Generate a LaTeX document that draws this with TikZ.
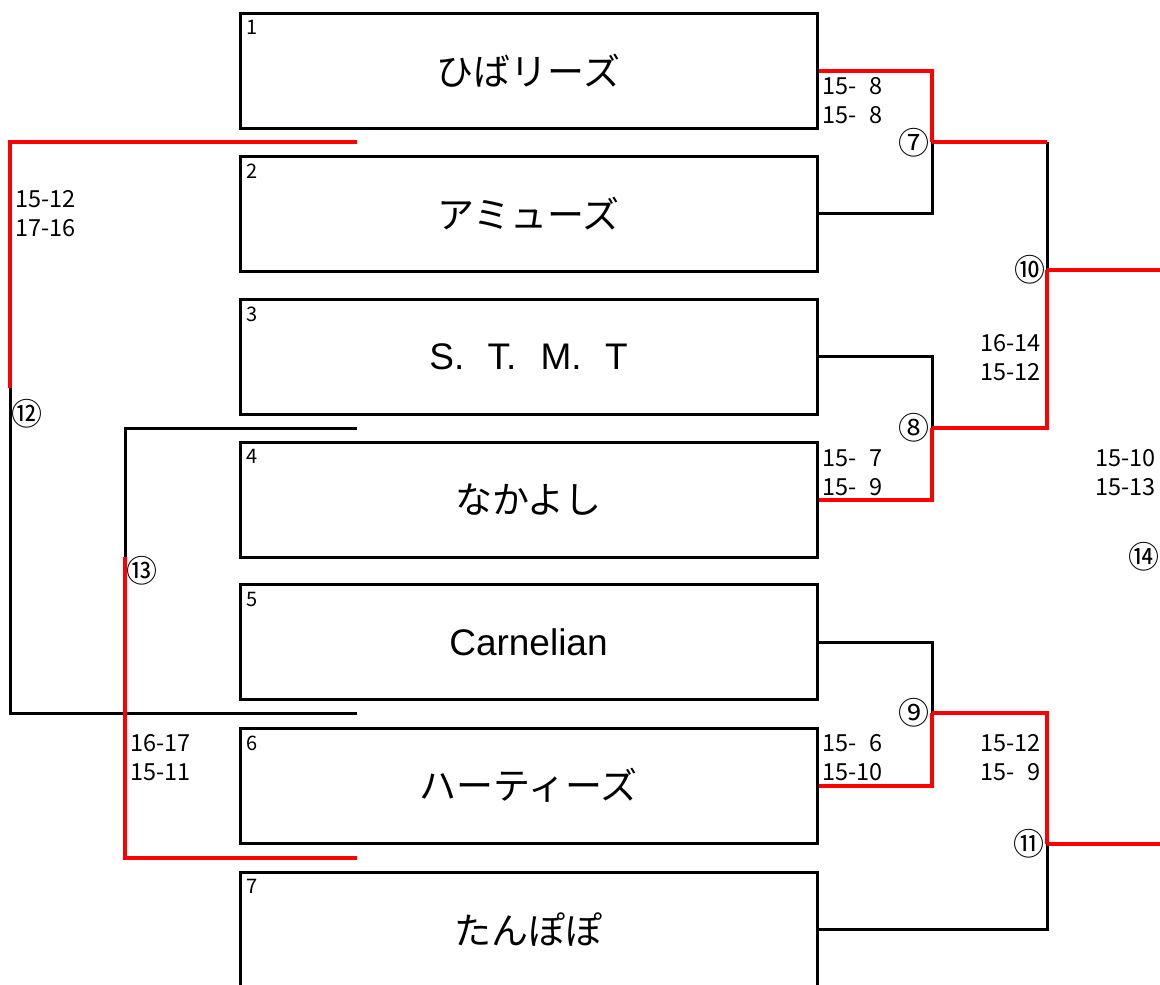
\documentclass[tikz,border=0pt]{standalone}
\usepackage{fontspec}
\setmainfont{Noto Sans CJK JP}
\newfontfamily\latinfont{Liberation Sans}
\usetikzlibrary{positioning}
\definecolor{pRed}{RGB}{255,0,0}
\tikzset{
    team/.style={rectangle, draw, line width=3pt, minimum width=577pt, minimum height=115pt, inner sep=0pt, font=\fontsize{37}{37}\selectfont},
    seed/.style={inner sep=0pt, anchor=north west, font=\fontsize{20}{20}\selectfont},
    score/.style={inner sep=0pt, font=\fontsize{23.5}{29}\selectfont},
    rnd/.style={inner sep=0pt, font=\fontsize{31}{31}\selectfont},
    lose/.style={line width=3pt, black},
    win/.style={line width=4pt, pRed}
}

\begin{document}
\begin{tikzpicture}[x=1pt,y=-1pt]
\useasboundingbox (0,0) rectangle (1160,985);
\node[team] (t1) at (528.5, 70.5) {ひばリーズ};
\node[team] (t2) at (528.5,213.5) {アミューズ};
\node[team] (t3) at (528.5,356.5) {\latinfont S.\hspace{13pt} T.\hspace{14pt} M.\hspace{13pt} T};
\node[team] (t4) at (528.5,499.5) {なかよし};
\node[team] (t5) at (528.5,642.0) {\latinfont Carnelian};
\node[team] (t6) at (528.5,785.5) {ハーティーズ};
\node[team] (t7) at (528.5,929.5) {たんぽぽ};
\foreach \i in {1,...,7}
    \node[seed, below right=9pt and 8pt of t\i.north west] (n\i) {\i};

\coordinate (m7) at (932,142);
\coordinate (m8) at (932,428);
\coordinate (m9) at (932,713);
\coordinate (m10) at (1047,270);
\coordinate (m11) at (1047,844);
\coordinate (m12) at (10,388);
\coordinate (m13) at (125,557);
\coordinate (e10) at (1162,270);
\coordinate (e11) at (1162,844);
\coordinate (a12) at (357,142);
\coordinate (b12) at (357,713);
\coordinate (a13) at (357,428);
\coordinate (b13) at (357,858);

\draw[lose] (t2.east) -| (m7);
\draw[lose] (t3.east) -| (m8);
\draw[lose] (t5.east) -| (m9);
\draw[lose] (t7.east) -| (m11);
\draw[lose] (m7 -| m10) -- (m10);
\draw[lose] (b12) -| (m12);
\draw[lose] (a13) -| (m13);
\draw[win] (t1.east) -| (m7);
\draw[win] (t4.east) -| (m8);
\draw[win] (t6.east) -| (m9);
\draw[win] (m7) -- (m7 -| m10);
\draw[win] (m8) -- (m8 -| m10) -- (m10);
\draw[win] (m10) -- (e10);
\draw[win] (m9) -- (m9 -| m11) -- (m11);
\draw[win] (m11) -- (e11);
\draw[win] (a12) -| (m12);
\draw[win] (b13) -| (m13);

\node[rnd] (r7) at (914,143) {⑦};
\node[rnd] (r8) at (914,428) {⑧};
\node[rnd] (r9) at (914,713) {⑨};
\node[rnd] (r10) at (1030,270) {⑩};
\node[rnd] (r11) at (1029,844) {⑪};
\node[rnd] (r12) at (27,414) {⑫};
\node[rnd] (r13) at (142,571) {⑬};
\node[rnd] (r14) at (1144,557) {⑭};

\node[score, align=left, anchor=west] (s7) at (822,101) {15-\phantom{0}8\\15-\phantom{0}8};
\node[score, align=left, anchor=west] (s8) at (822,472.5) {15-\phantom{0}7\\15-\phantom{0}9};
\node[score, align=left, anchor=west] (s9) at (822,757.5) {15-\phantom{0}6\\15-10};
\node[score, align=right, anchor=east] (s10) at (1041,357.5) {16-14\\15-12};
\node[score, align=right, anchor=east] (s11) at (1041,757.5) {15-12\\15-\phantom{0}9};
\node[score, align=left, anchor=west] (s12) at (15,214) {15-12\\17-16};
\node[score, align=left, anchor=west] (s13) at (130,757.5) {16-17\\15-11};
\node[score, align=left, anchor=west] (s14) at (1095,472.5) {15-10\\15-13};
\end{tikzpicture}
\end{document}
